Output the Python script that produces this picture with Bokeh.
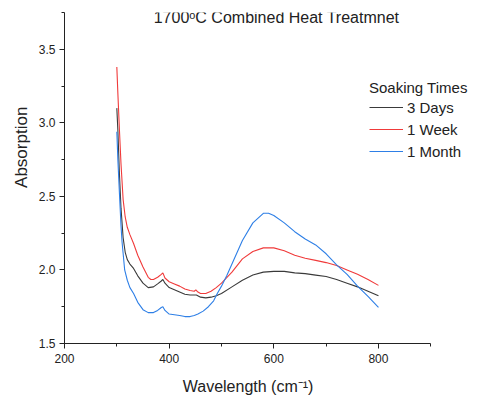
from bokeh.plotting import figure
from bokeh.models import (Range1d, SingleIntervalTicker, PrintfTickFormatter, Legend,
                          LegendItem, Label, ColumnDataSource)
from bokeh.embed import file_html
from bokeh.resources import INLINE

title_text = "1700ᵒC Combined Heat Treatmnet"
x_label = "Wavelength (cm⁻¹)"
y_label = "Absorption"
legend_title = "Soaking Times"
series_names = ["3 Days", "1 Week", "1 Month"]
series_colors = ["#3a3a3a", "#f03a3a", "#2e7fe6"]

wl_days = [300, 302, 305, 308, 312, 316, 320, 325, 332, 340, 350, 360, 370, 378, 385, 388,
           392, 400, 410, 420, 430, 440, 448, 452, 460, 470, 480, 490, 500, 520, 540, 560,
           580, 600, 620, 640, 660, 680, 700, 720, 740, 760, 780, 800]
abs_days = [3.10, 2.95, 2.65, 2.42, 2.22, 2.12, 2.07, 2.04, 2.01, 1.96, 1.91, 1.88, 1.885,
            1.905, 1.925, 1.935, 1.91, 1.88, 1.865, 1.85, 1.835, 1.83, 1.83, 1.83, 1.815,
            1.81, 1.815, 1.825, 1.84, 1.885, 1.93, 1.965, 1.985, 1.99, 1.99, 1.98, 1.975,
            1.965, 1.955, 1.935, 1.91, 1.885, 1.855, 1.825]

wl_week = [300, 302, 305, 308, 312, 316, 320, 325, 332, 340, 350, 360, 365, 370, 378, 385,
           388, 392, 400, 410, 420, 430, 440, 448, 451, 455, 460, 470, 480, 490, 500, 520,
           540, 560, 580, 600, 620, 640, 660, 680, 700, 720, 740, 760, 780, 800]
abs_week = [3.38, 3.20, 2.95, 2.72, 2.48, 2.36, 2.29, 2.24, 2.18, 2.10, 2.02, 1.95, 1.935,
            1.935, 1.95, 1.97, 1.98, 1.945, 1.92, 1.905, 1.89, 1.87, 1.86, 1.855, 1.865,
            1.85, 1.84, 1.84, 1.855, 1.88, 1.91, 1.985, 2.075, 2.125, 2.15, 2.15, 2.13,
            2.10, 2.08, 2.065, 2.05, 2.03, 2.00, 1.97, 1.935, 1.895]

wl_month = [300, 302, 305, 308, 310, 315, 320, 325, 332, 340, 350, 360, 370, 378, 385, 388,
            392, 400, 410, 420, 430, 440, 448, 455, 465, 475, 485, 492, 500, 510, 520, 540,
            560, 580, 590, 600, 620, 640, 660, 680, 700, 720, 740, 760, 780, 800]
abs_month = [2.94, 2.75, 2.52, 2.30, 2.19, 2.00, 1.93, 1.88, 1.84, 1.78, 1.73, 1.71, 1.71,
             1.725, 1.745, 1.75, 1.725, 1.70, 1.695, 1.69, 1.683, 1.683, 1.69, 1.70, 1.72,
             1.75, 1.79, 1.84, 1.89, 1.96, 2.04, 2.20, 2.32, 2.385, 2.385, 2.37, 2.32,
             2.26, 2.21, 2.17, 2.11, 2.035, 1.97, 1.89, 1.82, 1.745]

x_axis_start, x_axis_end = 200, 900
x_view_end = 995
y_start, y_end = 1.5, 3.75

FONT = "Liberation Sans"
INK = "#222222"

p = figure(width=483, height=401, output_backend="svg", toolbar_location=None,
           x_range=Range1d(x_axis_start, x_view_end), y_range=Range1d(y_start, y_end),
           min_border_left=64, min_border_right=3, min_border_top=12, min_border_bottom=58)
p.outline_line_color = None
p.grid.visible = False
p.background_fill_color = "white"
p.border_fill_color = "white"

for ax in (p.xaxis[0], p.yaxis[0]):
    ax.axis_line_color = INK
    ax.major_tick_line_color = INK
    ax.minor_tick_line_color = INK
    ax.major_tick_out = 5
    ax.major_tick_in = 0
    ax.minor_tick_out = 3
    ax.minor_tick_in = 0
    ax.major_label_text_font = FONT
    ax.major_label_text_font_size = "12px"
    ax.major_label_text_color = INK
    ax.axis_label_text_font = FONT
    ax.axis_label_text_font_style = "normal"
    ax.axis_label_text_color = INK

p.xaxis.bounds = (x_axis_start, x_axis_end)
p.xaxis.ticker = SingleIntervalTicker(interval=200, num_minor_ticks=2)
p.yaxis.ticker = SingleIntervalTicker(interval=0.5, num_minor_ticks=2)
p.yaxis.formatter = PrintfTickFormatter(format="%.1f")
p.xaxis.major_label_standoff = 5
p.yaxis.major_label_standoff = 4
# trailing no-break spaces move the centred label left, over the drawn axis
p.xaxis.axis_label = x_label + "\u00a0" * 11
p.xaxis.axis_label_text_font_size = "16px"
p.xaxis.axis_label_standoff = 12
# leading no-break spaces lift the centred label toward the top, as in the reference
p.yaxis.axis_label = "\u00a0" * 13 + y_label
p.yaxis.axis_label_text_font_size = "17px"
p.yaxis.axis_label_standoff = 5

renderers = []
for wl, ab, color in ((wl_days, abs_days, series_colors[0]),
                      (wl_week, abs_week, series_colors[1]),
                      (wl_month, abs_month, series_colors[2])):
    src = ColumnDataSource(dict(x=wl, y=ab))
    r = p.line("x", "y", source=src, line_color=color, line_width=1.1)
    renderers.append(r)

items = [LegendItem(label=series_names[i], renderers=[renderers[i]]) for i in range(3)]
legend = Legend(items=items, location=(305, 181), title=legend_title,
                title_text_font=FONT, title_text_font_size="15px", title_text_font_style="normal",
                title_text_color=INK, title_standoff=0,
                label_text_font=FONT, label_text_font_size="15px", label_text_color=INK,
                glyph_width=34, glyph_height=22, label_height=22, spacing=0, padding=0,
                margin=0, label_standoff=4, border_line_alpha=0, background_fill_alpha=0)
p.add_layout(legend)

p.add_layout(Label(x=212, y=326, x_units="screen", y_units="screen", text=title_text,
                   text_font=FONT, text_font_size="16px", text_color=INK,
                   text_align="center", text_baseline="middle"))

open("out.html", "w").write(file_html(p, INLINE))
